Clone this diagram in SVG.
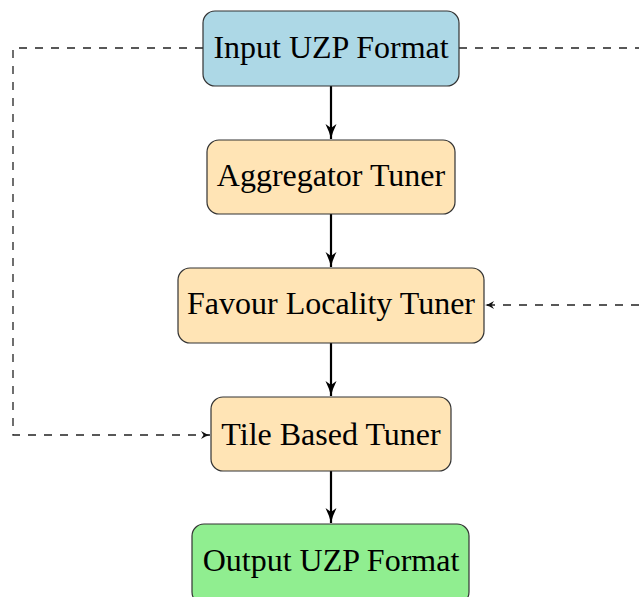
<svg xmlns="http://www.w3.org/2000/svg" width="639" height="597" viewBox="0 0 639 597">
<style>
.box{stroke:#333;stroke-width:1.2}
.lbl{font-family:"Liberation Serif","Times New Roman",serif;font-size:32px;fill:#000;text-anchor:middle}
.solid{stroke:#000;stroke-width:2.2;fill:none}
.dash{stroke:#222;stroke-width:1.3;fill:none;stroke-dasharray:8 8}
</style>
<defs>
<marker id="ah" viewBox="0 0 16 12" refX="15" refY="6" markerWidth="16" markerHeight="12" markerUnits="userSpaceOnUse" orient="auto">
<path d="M0,0.5 Q8,4.5 15,6 Q8,7.5 0,11.5 L4,6 Z" fill="#000"/>
</marker>
<marker id="ahs" viewBox="0 0 10 10" refX="9.5" refY="5" markerWidth="10" markerHeight="10" markerUnits="userSpaceOnUse" orient="auto">
<path d="M0.5,1 Q5,4 9.5,5 Q5,6 0.5,9 L3,5 Z" fill="#111"/>
</marker>
</defs>
<g id="connectors">
<line class="solid" x1="331" y1="86" x2="331" y2="139" marker-end="url(#ah)"/>
<line class="solid" x1="331" y1="214" x2="331" y2="267" marker-end="url(#ah)"/>
<line class="solid" x1="331" y1="343" x2="331" y2="396" marker-end="url(#ah)"/>
<line class="solid" x1="331" y1="471" x2="331" y2="523" marker-end="url(#ah)"/>
<polyline class="dash" points="203,48 13,48 13,435 210,435" marker-end="url(#ahs)"/>
<polyline class="dash" points="459,48 639,48"/>
<line class="dash" x1="639" y1="305" x2="485" y2="305" marker-end="url(#ahs)"/>
</g>
<g id="input">
<rect class="box" x="203" y="11" width="256" height="75" rx="12" fill="#add8e6"/>
<text class="lbl" x="331" y="58">Input UZP Format</text>
</g>
<g id="aggregator">
<rect class="box" x="207" y="140" width="248" height="74" rx="12" fill="#ffe4b5"/>
<text class="lbl" x="331" y="186">Aggregator Tuner</text>
</g>
<g id="favour">
<rect class="box" x="178" y="268" width="306" height="75" rx="12" fill="#ffe4b5"/>
<text class="lbl" x="331" y="314">Favour Locality Tuner</text>
</g>
<g id="tile">
<rect class="box" x="211" y="397" width="240" height="74" rx="12" fill="#ffe4b5"/>
<text class="lbl" x="331" y="445">Tile Based Tuner</text>
</g>
<g id="output">
<rect class="box" x="192" y="524" width="277" height="80" rx="12" fill="#90ee90"/>
<text class="lbl" x="331" y="571">Output UZP Format</text>
</g>
</svg>
